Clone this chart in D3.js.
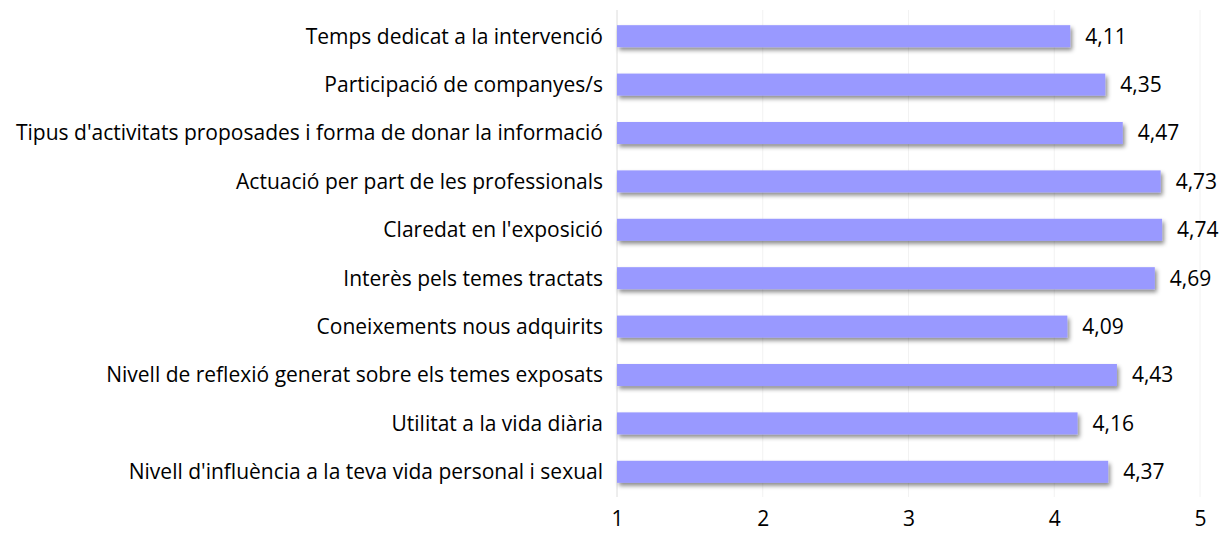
<!DOCTYPE html>
<html lang="en">
<head>
<meta charset="UTF-8">
<script src="https://d3js.org/d3.v7.min.js" charset="utf-8"></script>
<title>Valoració</title>
<style>
    body { margin: 0; background: #fff; }
    text { font-family: "Open Sans", "Liberation Sans", sans-serif; fill: #000; }
</style>
</head>
<body>
<div class="chart"></div>
<script>
    const categories = [
        "Temps dedicat a la intervenció",
        "Participació de companyes/s",
        "Tipus d'activitats proposades i forma de donar la informació",
        "Actuació per part de les professionals",
        "Claredat en l'exposició",
        "Interès pels temes tractats",
        "Coneixements nous adquirits",
        "Nivell de reflexió generat sobre els temes exposats",
        "Utilitat a la vida diària",
        "Nivell d'influència a la teva vida personal i sexual"
    ];
    const values = [4.11, 4.35, 4.47, 4.73, 4.74, 4.69, 4.09, 4.43, 4.16, 4.37];
    const ticks = [1, 2, 3, 4, 5];

    const width = 1221;
    const height = 535;
    let fontSize = 19;

    const svg = d3.select(".chart").append("svg")
        .attr("width", width)
        .attr("height", height);

    const defs = svg.append("defs");
    defs.append("filter")
        .attr("id", "shadow")
        .attr("x", "-5%").attr("y", "-30%")
        .attr("width", "115%").attr("height", "180%")
        .append("feDropShadow")
        .attr("dx", 2).attr("dy", 3)
        .attr("stdDeviation", 2)
        .attr("flood-color", "#000")
        .attr("flood-opacity", 0.45);

    const x = d3.scaleLinear().domain([1, 5]).range([617, 1200]);
    const y = d3.scaleBand()
        .domain(categories)
        .range([12, 496])
        .paddingInner(0.545)
        .paddingOuter(0.2725);

    // size the font so the longest label spans like the original (Calibri is narrow)
    const probe = svg.append("text").style("font-size", "20px")
        .text(categories[2]);
    fontSize = 20 * 590 / probe.node().getComputedTextLength();
    fontSize = Math.min(fontSize, 21);
    probe.remove();

    // faint vertical gridlines
    svg.append("g")
        .selectAll("line")
        .data(ticks)
        .join("line")
        .attr("x1", d => x(d)).attr("x2", d => x(d))
        .attr("y1", 10).attr("y2", 497)
        .attr("stroke", d => d === 1 ? "#dcdcdc" : "#f2f2f2")
        .attr("stroke-width", 1);

    // bars
    svg.append("g")
        .selectAll("rect")
        .data(categories)
        .join("rect")
        .attr("x", x(1))
        .attr("y", d => y(d))
        .attr("width", (d, i) => x(values[i]) - x(1))
        .attr("height", y.bandwidth())
        .attr("fill", "#9999ff")
        .attr("filter", "url(#shadow)");

    // category labels
    svg.append("g")
        .selectAll("text")
        .data(categories)
        .join("text")
        .attr("x", 603)
        .attr("y", d => y(d) + y.bandwidth() / 2)
        .attr("dy", "0.35em")
        .attr("text-anchor", "end")
        .style("font-size", fontSize + "px")
        .text(d => d);

    // value labels
    svg.append("g")
        .selectAll("text")
        .data(categories)
        .join("text")
        .attr("x", (d, i) => x(values[i]) + 15)
        .attr("y", d => y(d) + y.bandwidth() / 2)
        .attr("dy", "0.35em")
        .style("font-size", fontSize + "px")
        .text((d, i) => values[i].toFixed(2).replace(".", ","));

    // x axis labels
    const xAxis = d3.axisBottom(x).tickValues(ticks).tickFormat(d3.format("d"))
        .tickSize(0).tickPadding(0);
    const gx = svg.append("g")
        .attr("transform", "translate(0,511)")
        .call(xAxis);
    gx.select(".domain").remove();
    gx.selectAll("text")
        .style("font-size", fontSize + "px")
        .style("font-family", "'Open Sans', 'Liberation Sans', sans-serif")
        .attr("fill", "#000");
</script>
</body>
</html>
